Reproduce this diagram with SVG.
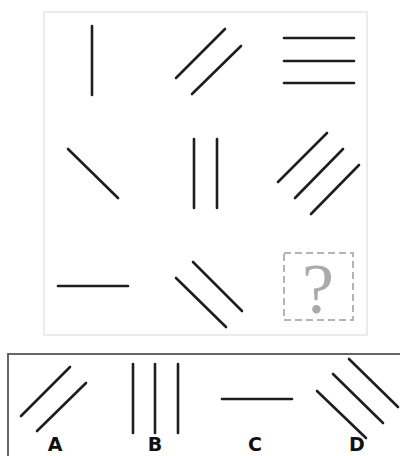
<svg xmlns="http://www.w3.org/2000/svg" width="400" height="456" viewBox="0 0 400 456">
<style>
.l{stroke:#1e1e1e;stroke-width:2.6;stroke-linecap:round;fill:none}
.lbl{font-family:"DejaVu Sans",sans-serif;font-weight:bold;font-size:19px;fill:#111;text-anchor:middle}
</style>
<rect width="400" height="456" fill="#fff"/>
<g id="panel">
<rect x="44" y="12" width="323" height="323" fill="#fff" stroke="#dedede" stroke-width="1.2"/>
</g>
<g id="cell11"><line class="l" x1="92" y1="26" x2="92" y2="95"/></g>
<g id="cell12"><line class="l" x1="176" y1="78" x2="225" y2="29"/><line class="l" x1="192" y1="94" x2="241" y2="46"/></g>
<g id="cell13"><line class="l" x1="284" y1="38" x2="354" y2="38"/><line class="l" x1="284" y1="61" x2="354" y2="61"/><line class="l" x1="284" y1="83" x2="354" y2="83"/></g>
<g id="cell21"><line class="l" x1="68" y1="149" x2="118" y2="198"/></g>
<g id="cell22"><line class="l" x1="194" y1="139" x2="194" y2="208"/><line class="l" x1="217" y1="139" x2="217" y2="208"/></g>
<g id="cell23"><line class="l" x1="278" y1="182" x2="327" y2="133"/><line class="l" x1="295" y1="198" x2="343" y2="149"/><line class="l" x1="311" y1="214" x2="359" y2="165"/></g>
<g id="cell31"><line class="l" x1="58" y1="286" x2="128" y2="286"/></g>
<g id="cell32"><line class="l" x1="176" y1="278" x2="226" y2="327"/><line class="l" x1="193" y1="262" x2="242" y2="311"/></g>
<g id="cell33">
<rect x="284" y="253" width="69" height="67" fill="none" stroke="#b4b4b4" stroke-width="2" stroke-dasharray="7,4"/>
<text x="318" y="313" font-family="Liberation Serif,serif" font-size="72" fill="#aaa" text-anchor="middle">?</text>
</g>
<g id="options">
<rect x="8" y="354" width="400" height="120" fill="none" stroke="#555" stroke-width="1.8"/>
</g>
<g id="optA"><line class="l" x1="21" y1="416" x2="70" y2="367"/><line class="l" x1="37" y1="431" x2="86" y2="383"/><text class="lbl" x="55" y="451">A</text></g>
<g id="optB"><line class="l" x1="133" y1="364" x2="133" y2="433"/><line class="l" x1="155" y1="364" x2="155" y2="433"/><line class="l" x1="178" y1="364" x2="178" y2="433"/><text class="lbl" x="155" y="451">B</text></g>
<g id="optC"><line class="l" x1="222" y1="399" x2="292" y2="399"/><text class="lbl" x="255" y="451">C</text></g>
<g id="optD"><line class="l" x1="317" y1="391" x2="366" y2="438"/><line class="l" x1="333" y1="374" x2="383" y2="423"/><line class="l" x1="349" y1="359" x2="398" y2="407"/><text class="lbl" x="357" y="451">D</text></g>
</svg>
